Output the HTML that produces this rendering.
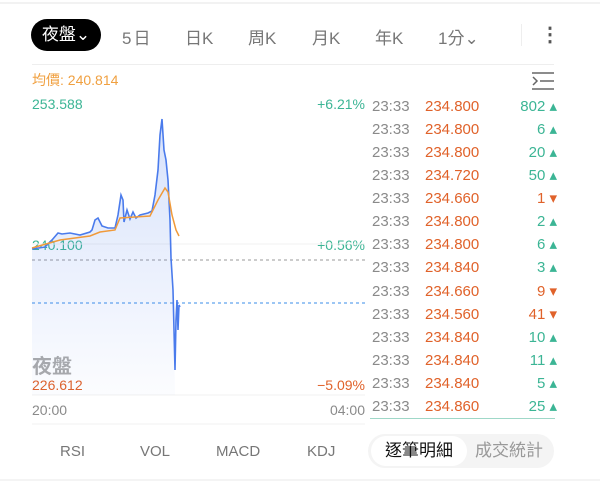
<!DOCTYPE html>
<html><head><meta charset="utf-8"><style>
body{margin:0;width:600px;height:481px;background:#fff;font-family:"Liberation Sans","Noto Sans CJK TC",sans-serif;overflow:hidden;position:relative}
.a{position:absolute;white-space:nowrap}
.g{color:#3cb595}.r{color:#e0622a}.gr{color:#8a8a8a}
.row{position:absolute;left:372px;width:185px;height:23px;font-size:15px;line-height:23px}
</style></head><body>
<div class="a" style="left:0;top:2px;width:600px;height:2px;background:#f2f2f2"></div>
<div class="a" style="left:31px;top:19px;width:70px;height:32px;border-radius:16px;background:#000;color:#fff;font-size:17px;line-height:32px;text-align:center">夜盤⌄</div>
<div class="a gr" style="left:122px;top:24px;font-size:17px;color:#777;letter-spacing:2px">5日</div>
<div class="a gr" style="left:185px;top:24px;font-size:17px;color:#777">日K</div>
<div class="a gr" style="left:248px;top:24px;font-size:17px;color:#777">周K</div>
<div class="a gr" style="left:312px;top:24px;font-size:17px;color:#777">月K</div>
<div class="a gr" style="left:375px;top:24px;font-size:17px;color:#777">年K</div>
<div class="a gr" style="left:438px;top:24px;font-size:17px;color:#777">1分⌄</div>
<div class="a" style="left:521px;top:24px;width:1px;height:22px;background:#eee"></div>
<div class="a" style="left:540px;top:22px;font-size:20px;color:#555;font-weight:bold">⋮</div>
<div class="a" style="left:32px;top:64px;width:522px;height:1px;background:#eee"></div>
<div class="a" style="left:32px;top:70px;font-size:14px;color:#f0a040">均價: 240.814</div>
<svg class="a" style="left:532px;top:72px" width="22" height="18"><g stroke="#666" stroke-width="1.5"><line x1="0" y1="1" x2="22" y2="1"/><line x1="8" y1="9" x2="22" y2="9"/><line x1="0" y1="17" x2="22" y2="17"/><polyline points="1,5 5,9 1,13" fill="none"/></g></svg>
<div class="a g" style="left:32px;top:96px;font-size:14px">253.588</div>
<div class="a g" style="right:235px;top:96px;font-size:14px">+6.21%</div>
<div class="a g" style="left:32px;top:237px;font-size:14px">240.100</div>
<div class="a g" style="right:235px;top:237px;font-size:14px">+0.56%</div>
<div class="a r" style="left:32px;top:377px;font-size:14px">226.612</div>
<div class="a r" style="right:235px;top:377px;font-size:14px">−5.09%</div>
<div class="a gr" style="left:32px;top:402px;font-size:14px">20:00</div>
<div class="a gr" style="right:235px;top:402px;font-size:14px">04:00</div>
<div class="a" style="left:32px;top:350px;font-size:20px;color:#aaa;font-weight:bold">夜盤</div>
<svg class="a" style="left:0;top:0" width="370" height="430">
<defs><linearGradient id="f" x1="0" y1="0" x2="0" y2="1"><stop offset="0" stop-color="#4a7bec" stop-opacity="0.22"/><stop offset="1" stop-color="#4a7bec" stop-opacity="0.02"/></linearGradient></defs>
<line x1="32" y1="244" x2="365" y2="244" stroke="#f0f0f0"/>
<line x1="32" y1="395" x2="365" y2="395" stroke="#f0f0f0"/>
<line x1="32" y1="424" x2="365" y2="424" stroke="#f0f0f0"/>
<line x1="32" y1="260" x2="365" y2="260" stroke="#999" stroke-dasharray="3,3"/>
<line x1="32" y1="303" x2="365" y2="303" stroke="#3a8ee8" stroke-dasharray="3,3"/>
<polygon fill="url(#f)" points="32,249 45,247 52,240 58,233 62,234 70,233 80,235 90,232 92,230 95,220 98,218 102,226 108,228 115,228 118,215 121,195 123,200 124,222 127,210 130,219 133,212 136,218 140,215 148,213 152,211 155,195 158,170 160,135 162,119 164,150 166,160 168,180 170,220 171,258 173,290 174,330 175,395 32,395"/>
<polyline fill="none" stroke="#4a7bec" stroke-width="1.6" points="32,249 45,247 52,240 58,233 62,234 70,233 80,235 90,232 92,230 95,220 98,218 102,226 108,228 115,228 118,215 121,195 123,200 124,222 127,210 130,219 133,212 136,218 140,215 148,213 152,211 155,195 158,170 160,135 162,119 164,150 166,160 168,180 170,220 171,258 173,290 174,330 175,370 176,320 177,300 178,330 179,305 180,307"/>
<polyline fill="none" stroke="#f09a3a" stroke-width="1.5" points="32,248 60,240 90,236 100,232 115,230 120,218 150,216 158,200 165,188 168,192 172,215 176,230 179,236"/>
</svg>
<div class="row" style="top:95px"><span class="gr">23:33</span><span class="a r" style="left:53px">234.800</span><span class="a g" style="right:0">802 ▴</span></div>
<div class="row" style="top:118px"><span class="gr">23:33</span><span class="a r" style="left:53px">234.800</span><span class="a g" style="right:0">6 ▴</span></div>
<div class="row" style="top:141px"><span class="gr">23:33</span><span class="a r" style="left:53px">234.800</span><span class="a g" style="right:0">20 ▴</span></div>
<div class="row" style="top:164px"><span class="gr">23:33</span><span class="a r" style="left:53px">234.720</span><span class="a g" style="right:0">50 ▴</span></div>
<div class="row" style="top:187px"><span class="gr">23:33</span><span class="a r" style="left:53px">234.660</span><span class="a r" style="right:0">1 ▾</span></div>
<div class="row" style="top:210px"><span class="gr">23:33</span><span class="a r" style="left:53px">234.800</span><span class="a g" style="right:0">2 ▴</span></div>
<div class="row" style="top:233px"><span class="gr">23:33</span><span class="a r" style="left:53px">234.800</span><span class="a g" style="right:0">6 ▴</span></div>
<div class="row" style="top:256px"><span class="gr">23:33</span><span class="a r" style="left:53px">234.840</span><span class="a g" style="right:0">3 ▴</span></div>
<div class="row" style="top:280px"><span class="gr">23:33</span><span class="a r" style="left:53px">234.660</span><span class="a r" style="right:0">9 ▾</span></div>
<div class="row" style="top:303px"><span class="gr">23:33</span><span class="a r" style="left:53px">234.560</span><span class="a r" style="right:0">41 ▾</span></div>
<div class="row" style="top:326px"><span class="gr">23:33</span><span class="a r" style="left:53px">234.840</span><span class="a g" style="right:0">10 ▴</span></div>
<div class="row" style="top:349px"><span class="gr">23:33</span><span class="a r" style="left:53px">234.840</span><span class="a g" style="right:0">11 ▴</span></div>
<div class="row" style="top:372px"><span class="gr">23:33</span><span class="a r" style="left:53px">234.840</span><span class="a g" style="right:0">5 ▴</span></div>
<div class="row" style="top:395px"><span class="gr">23:33</span><span class="a r" style="left:53px">234.860</span><span class="a g" style="right:0">25 ▴</span></div>
<div class="a" style="left:370px;top:418px;width:185px;height:1px;background:#9fd8c8"></div>
<div class="a" style="left:60px;top:443px;font-size:15px;color:#777">RSI</div>
<div class="a" style="left:140px;top:443px;font-size:15px;color:#777">VOL</div>
<div class="a" style="left:216px;top:443px;font-size:15px;color:#777">MACD</div>
<div class="a" style="left:307px;top:443px;font-size:15px;color:#777">KDJ</div>
<div class="a" style="left:368px;top:434px;width:186px;height:34px;border-radius:17px;background:#f4f4f4"></div>
<div class="a" style="left:371px;top:436px;width:96px;height:30px;border-radius:15px;background:#fff;font-size:17px;line-height:30px;text-align:center;color:#111">逐筆明細</div>
<div class="a" style="left:475px;top:436px;font-size:17px;line-height:30px;color:#999">成交統計</div>
<div class="a" style="left:0;top:479px;width:600px;height:2px;background:#f4f4f4"></div>
</body></html>
